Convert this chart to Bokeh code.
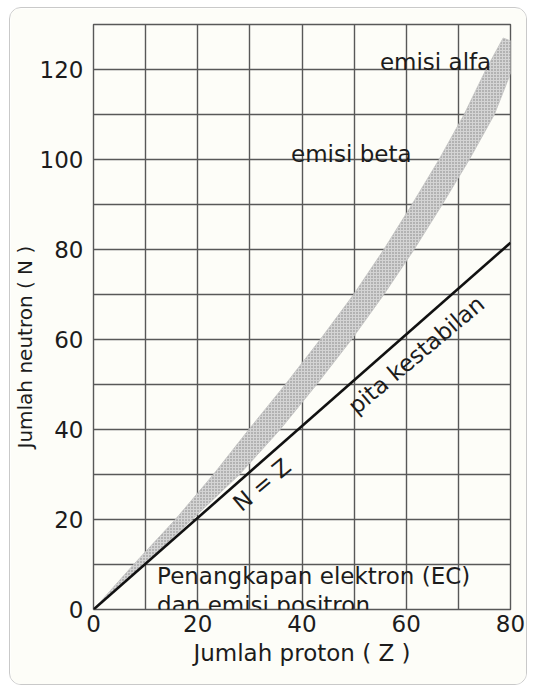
from bokeh.plotting import figure
from bokeh.models import Range1d, FixedTicker, Label, Title
from bokeh.embed import file_html
from bokeh.resources import INLINE

# ---- data ----
x_ticks = [0, 20, 40, 60, 80]
y_ticks = [0, 20, 40, 60, 80, 100, 120]
grid_x = [0, 10, 20, 30, 40, 50, 60, 70, 80]
grid_y = [0, 10, 20, 30, 40, 50, 60, 70, 80, 90, 100, 110, 120, 130]

# N = Z line
line_z = [0, 80]
line_n = [0, 81.5]

# stability band (pita kestabilan): upper-left edge and lower-right edge
band_left_z = [0, 7.7, 15.7, 23.0, 29.8, 36.8, 43.5, 49.9, 55.7, 61.1, 66.3, 71.1, 75.3, 78.6]
band_left_n = [0, 10, 20, 30, 40, 50, 60, 70, 80, 90, 100, 110, 120, 127]
band_right_z = [80.8, 80.3, 76.9, 72.1, 66.9, 61.5, 55.7, 49.5, 42.8, 35.8, 28.0, 18.9, 9.7, 0]
band_right_n = [126, 120, 110, 100, 90, 80, 70, 60, 50, 40, 30, 20, 10, 0]

FONT = "DejaVu Sans"
TXT = "#1c1c1c"
BG = "#fdfdf8"
GRID = "#585858"

p = figure(width=518, height=678,
           x_range=Range1d(0, 80), y_range=Range1d(0, 130),
           output_backend="svg", toolbar_location=None,
           min_border_left=82, min_border_right=18,
           min_border_top=16, min_border_bottom=77)

p.background_fill_color = BG
p.border_fill_color = BG
p.outline_line_color = GRID
p.outline_line_width = 1.4
p.styles = {"margin-left": "9px", "margin-top": "7px",
            "border": "1.5px solid #c9c9c9", "border-radius": "12px",
            "overflow": "hidden"}

p.xgrid.ticker = FixedTicker(ticks=grid_x)
p.ygrid.ticker = FixedTicker(ticks=grid_y)
p.grid.grid_line_color = GRID
p.grid.grid_line_width = 1.4
p.grid.grid_line_alpha = 1.0

p.xaxis.ticker = FixedTicker(ticks=x_ticks)
p.yaxis.ticker = FixedTicker(ticks=y_ticks)
for ax in (p.xaxis, p.yaxis):
    ax.axis_line_color = None
    ax.major_tick_line_color = None
    ax.minor_tick_line_color = None
    ax.major_tick_out = 0
    ax.major_tick_in = 0
    ax.major_label_text_font = FONT
    ax.major_label_text_font_size = "23px"
    ax.major_label_text_color = TXT
p.yaxis.major_label_standoff = 10
p.xaxis.major_label_standoff = 5

p.xaxis.axis_label = "Jumlah proton ( Z )"
p.xaxis.axis_label_text_font = FONT
p.xaxis.axis_label_text_font_size = "23px"
p.xaxis.axis_label_text_font_style = "normal"
p.xaxis.axis_label_text_color = TXT
p.xaxis.axis_label_standoff = 5

ytitle = Title(text="Jumlah neutron ( N )", align="left", offset=161,
               text_font=FONT, text_font_size="20px", text_font_style="normal",
               text_color=TXT, standoff=0)
p.add_layout(ytitle, "left")

# band
band_z = band_left_z + band_right_z
band_n = band_left_n + band_right_n
p.patch(band_z, band_n, fill_color="#d4d4d4", line_color="#c2c2c2", line_width=0.8,
        hatch_pattern="dot", hatch_color="#808080", hatch_scale=3, hatch_weight=1)

# N = Z line
p.line(line_z, line_n, line_color="#111111", line_width=2.6)

def lab(x, y, text, align="left", baseline="alphabetic", angle=0, size="23px"):
    p.add_layout(Label(x=x, y=y, text=text, text_font=FONT, text_font_size=size,
                       text_color=TXT, text_align=align, text_baseline=baseline,
                       angle=angle, angle_units="deg"))

lab(76.3, 121.6, "emisi alfa", align="right")
lab(37.9, 101.2, "emisi beta")
lab(12.2, 7.4, "Penangkapan elektron (EC)")
lab(12.2, 0.9, "dan emisi positron")
lab(32.3, 27.7, "N = Z", align="center", baseline="middle", angle=40)
lab(61.9, 56.6, "pita kestabilan", align="center", baseline="middle", angle=40)

open("out.html", "w").write(file_html(p, INLINE))
